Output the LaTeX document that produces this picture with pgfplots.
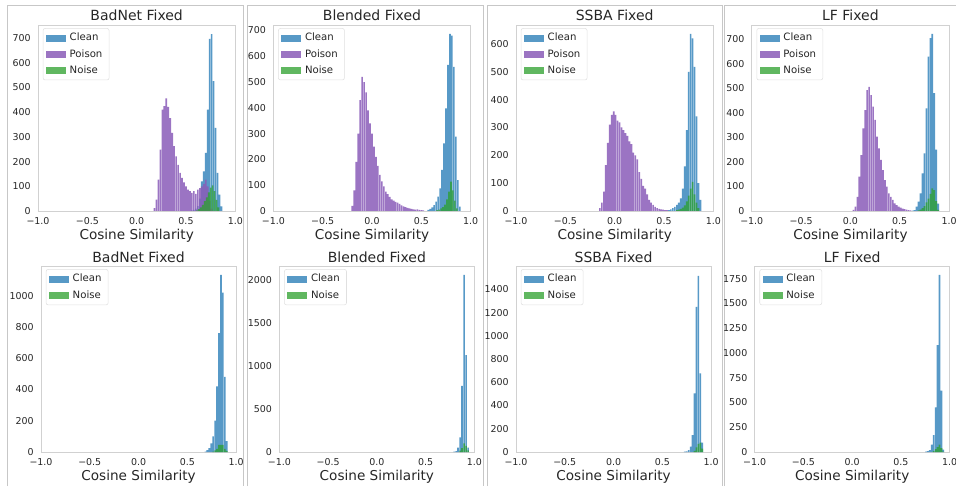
\documentclass[border=0pt]{standalone}
\usepackage{fontspec}
\setmainfont{DejaVu Sans}
\usepackage{pgfplots}
\pgfplotsset{compat=1.18}
\definecolor{cclean}{HTML}{1F77B4}
\definecolor{cpoison}{HTML}{8A5CB8}
\definecolor{cnoise}{HTML}{2CA02C}
\definecolor{tcol}{gray}{0.15}
\definecolor{fcol}{gray}{0.82}
\pgfplotsset{
 panel/.style={
  scale only axis, height=139.5pt, anchor=south west,
  xmin=-1, xmax=1, ymin=0,
  ybar, bar width=0.0165, bar shift=0pt,
  axis line style={draw=fcol, line width=0.5pt},
  major tick length=0pt, tick style={draw=none},
  xtick={-1,-0.5,0,0.5,1}, xticklabels={−1.0,−0.5,0.0,0.5,1.0},
  scaled y ticks=false,
  /pgf/number format/assume math mode=true,
  /pgf/number format/1000 sep={},
  ticklabel style={font=\fontsize{7.1}{8}\selectfont, text=tcol},
  xticklabel style={yshift=-1pt},
  yticklabel style={xshift=-2pt},
  xlabel={Cosine Similarity},
  every axis x label/.style={at={(axis description cs:0.5,0)}, anchor=base, yshift=-21pt, font=\fontsize{10.2}{12}\selectfont, text=tcol},
  every axis title/.style={at={(axis description cs:0.5,1)}, anchor=base, yshift=3pt, font=\fontsize{10.5}{12}\selectfont, text=tcol},
  legend cell align=left,
  legend style={at={(axis description cs:0,1)}, anchor=north west, xshift=3.6pt, yshift=-2.4pt,
    draw=black!12, rounded corners=1.5pt, fill=white, font=\fontsize{7.6}{9}\selectfont, text=tcol,
    inner xsep=2.2pt, inner ysep=2pt, row sep=1.6pt,
    nodes={inner ysep=1.6pt, inner xsep=2.8pt}},
  legend image code/.code={\path[#1,draw=none,sharp corners] (0pt,-2.7pt) rectangle (15pt,2.7pt);},
 },
 top/.style={panel, width=148pt},
 bot/.style={panel, width=146.3pt},
 clean/.style={fill=cclean, fill opacity=0.75, draw=none},
 poison/.style={fill=cpoison, fill opacity=0.85, draw=none},
 noise/.style={fill=cnoise, fill opacity=0.75, draw=none},
}
\begin{document}
\begin{tikzpicture}
\useasboundingbox (0,0) rectangle (717pt,364.5pt);
% subfigure frames
\begin{scope}[draw=black!22, line width=0.6pt]
\draw (5.25pt,0) -- (5.25pt,360.75pt) -- (182.25pt,360.75pt) -- (182.25pt,0);
\draw (185.25pt,0) -- (185.25pt,360.75pt) -- (362.25pt,360.75pt) -- (362.25pt,0);
\draw (365.25pt,0) -- (365.25pt,360.75pt) -- (541.5pt,360.75pt) -- (541.5pt,0);
\draw (543pt,0) -- (543pt,360.75pt) -- (717pt,360.75pt);
\end{scope}

% ---------------- top row ----------------
\begin{axis}[top, at={(28.5pt,206.25pt)}, ymax=752.6, ytick={0,100,...,700}, title={BadNet Fixed}]
\addplot[clean] coordinates {(0.56,3)(0.58,5)(0.60,10)(0.62,20)(0.64,50)(0.66,120)(0.68,160)(0.70,235)(0.72,410)(0.74,696)(0.76,716)(0.78,525)(0.80,336)(0.82,154)(0.84,66)(0.86,19)};
\addlegendentry{Clean}
\addplot[poison] coordinates {(0.18,12)(0.20,46)(0.22,127)(0.24,248)(0.26,410)(0.28,424)(0.30,456)(0.32,421)(0.34,376)(0.36,316)(0.38,262)(0.40,221)(0.42,187)(0.44,154)(0.46,134)(0.48,116)(0.50,100)(0.52,86)(0.54,80)(0.56,73)(0.58,80)(0.60,69)(0.62,86)(0.64,93)(0.66,100)(0.68,110)(0.70,127)(0.72,100)(0.74,40)(0.76,10)};
\addlegendentry{Poison}
\addplot[noise] coordinates {(0.61,3)(0.63,8)(0.65,15)(0.67,25)(0.69,40)(0.71,55)(0.73,75)(0.75,95)(0.77,104)(0.79,80)(0.81,45)(0.83,15)};
\addlegendentry{Noise}
\end{axis}

\begin{axis}[top, at={(205pt,206.25pt)}, ymax=721, ytick={0,100,...,700}, title={Blended Fixed}]
\addplot[clean] coordinates {(0.57,4)(0.59,8)(0.61,14)(0.63,23)(0.65,36)(0.67,56)(0.69,88)(0.71,159)(0.73,262)(0.75,398)(0.77,566)(0.79,687)(0.81,680)(0.83,559)(0.85,288)(0.87,120)(0.89,17)};
\addlegendentry{Clean}
\addplot[poison] coordinates {(-0.20,20)(-0.18,80)(-0.16,190)(-0.14,300)(-0.12,430)(-0.10,520)(-0.08,500)(-0.06,460)(-0.04,390)(-0.02,340)(0.00,300)(0.02,250)(0.04,210)(0.06,175)(0.08,140)(0.10,115)(0.12,95)(0.14,75)(0.16,65)(0.18,55)(0.20,45)(0.22,40)(0.24,35)(0.26,32)(0.28,28)(0.30,22)(0.32,18)(0.34,15)(0.36,12)(0.38,10)(0.40,8)(0.42,6)(0.44,5)(0.46,6)(0.48,4)(0.50,3)(0.52,2)};
\addlegendentry{Poison}
\addplot[noise] coordinates {(0.66,3)(0.68,5)(0.70,10)(0.72,15)(0.74,25)(0.76,45)(0.78,75)(0.80,114)(0.82,80)(0.84,40)(0.86,10)};
\addlegendentry{Noise}
\end{axis}

\begin{axis}[top, at={(387pt,206.25pt)}, ymax=668, ytick={0,100,...,600}, title={SSBA Fixed}]
\addplot[clean] coordinates {(0.55,3)(0.57,6)(0.59,10)(0.61,15)(0.63,22)(0.65,30)(0.67,45)(0.69,80)(0.71,160)(0.73,290)(0.75,500)(0.77,636)(0.79,620)(0.81,518)(0.83,340)(0.85,100)(0.87,40)};
\addlegendentry{Clean}
\addplot[poison] coordinates {(-0.15,10)(-0.13,30)(-0.11,70)(-0.09,165)(-0.07,245)(-0.05,310)(-0.03,345)(-0.01,358)(0.01,345)(0.03,325)(0.05,318)(0.07,300)(0.09,290)(0.11,280)(0.13,270)(0.15,250)(0.17,240)(0.19,210)(0.21,200)(0.23,185)(0.25,140)(0.27,115)(0.29,90)(0.31,80)(0.33,60)(0.35,40)(0.37,30)(0.39,22)(0.41,15)(0.43,10)(0.45,8)(0.47,6)(0.49,5)(0.51,3)(0.53,3)};
\addlegendentry{Poison}
\addplot[noise] coordinates {(0.63,3)(0.65,5)(0.67,8)(0.69,12)(0.71,20)(0.73,35)(0.75,55)(0.77,80)(0.79,105)(0.81,60)(0.83,30)(0.85,10)};
\addlegendentry{Noise}
\end{axis}

\begin{axis}[top, at={(563.8pt,206.25pt)}, ymax=758, ytick={0,100,...,700}, title={LF Fixed}]
\addplot[clean] coordinates {(0.63,2)(0.65,4)(0.67,18)(0.69,38)(0.71,72)(0.73,153)(0.75,235)(0.77,418)(0.79,629)(0.81,705)(0.83,722)(0.85,480)(0.87,250)(0.89,30)};
\addlegendentry{Clean}
\addplot[poison] coordinates {(0.03,5)(0.05,18)(0.07,58)(0.09,140)(0.11,228)(0.13,337)(0.15,411)(0.17,493)(0.19,506)(0.21,472)(0.23,425)(0.25,371)(0.27,303)(0.29,255)(0.31,208)(0.33,167)(0.35,126)(0.37,99)(0.39,72)(0.41,58)(0.43,45)(0.45,31)(0.47,24)(0.49,18)(0.51,14)(0.53,10)(0.55,8)(0.57,6)(0.59,4)(0.61,3)};
\addlegendentry{Poison}
\addplot[noise] coordinates {(0.69,3)(0.71,6)(0.73,12)(0.75,20)(0.77,35)(0.79,50)(0.81,70)(0.83,92)(0.85,85)(0.87,40)(0.89,5)};
\addlegendentry{Noise}
\end{axis}

% ---------------- bottom row ----------------
\begin{axis}[bot, at={(30.75pt,25.5pt)}, ymax=1190, ytick={0,200,...,1000}, title={BadNet Fixed}]
\addplot[clean] coordinates {(0.685,3)(0.705,12)(0.725,25)(0.745,55)(0.765,100)(0.785,200)(0.805,420)(0.825,760)(0.845,1133)(0.865,1020)(0.885,480)(0.905,70)};
\addlegendentry{Clean}
\addplot[noise] coordinates {(0.765,3)(0.785,10)(0.805,20)(0.825,45)(0.845,46)(0.865,45)(0.885,20)(0.905,8)};
\addlegendentry{Noise}
\end{axis}

\begin{axis}[bot, at={(209.5pt,25.5pt)}, ymax=2167, ytick={0,500,...,2000}, title={Blended Fixed}]
\addplot[clean] coordinates {(0.792,5)(0.812,10)(0.832,50)(0.853,170)(0.873,770)(0.894,2064)(0.915,1130)(0.935,50)};
\addlegendentry{Clean}
\addplot[noise] coordinates {(0.853,15)(0.873,45)(0.894,100)(0.915,70)(0.935,20)};
\addlegendentry{Noise}
\end{axis}

\begin{axis}[bot, at={(387pt,25.5pt)}, ymax=1601, ytick={0,200,...,1400}, title={SSBA Fixed}]
\addplot[clean] coordinates {(0.73,3)(0.75,5)(0.77,17)(0.79,46)(0.81,146)(0.83,505)(0.85,1250)(0.87,1515)(0.89,677)(0.91,80)};
\addlegendentry{Clean}
\addplot[noise] coordinates {(0.83,10)(0.85,40)(0.87,70)(0.89,80)(0.91,30)};
\addlegendentry{Noise}
\end{axis}

\begin{axis}[bot, at={(566pt,25.5pt)}, ymax=1878, ytick={0,250,...,1750}, title={LF Fixed}]
\addplot[clean] coordinates {(0.755,5)(0.775,10)(0.795,20)(0.815,75)(0.835,170)(0.855,450)(0.875,1080)(0.895,1789)(0.915,620)(0.935,25)};
\addlegendentry{Clean}
\addplot[noise] coordinates {(0.835,10)(0.855,30)(0.875,50)(0.895,75)(0.915,40)(0.935,5)};
\addlegendentry{Noise}
\end{axis}
\end{tikzpicture}
\end{document}
